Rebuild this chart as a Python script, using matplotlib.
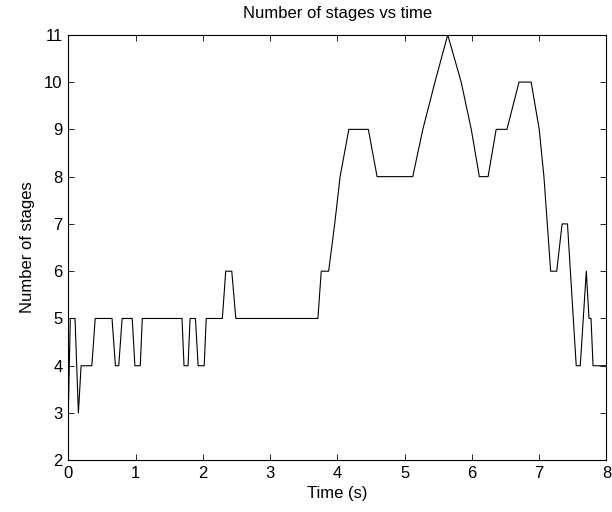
import matplotlib
matplotlib.use("Agg")
import matplotlib.pyplot as plt

plt.rcParams['font.family'] = ['Liberation Sans', 'DejaVu Sans']

# Vertices of the stage-count trace
time_s = [0.00, 0.03, 0.10, 0.15, 0.19, 0.35, 0.40, 0.65, 0.70, 0.75, 0.80,
          0.95, 0.99, 1.07, 1.10, 1.69, 1.72, 1.78, 1.81, 1.89, 1.93, 2.02,
          2.05, 2.29, 2.34, 2.43, 2.49, 3.71, 3.76, 3.87, 3.96, 4.04, 4.17,
          4.46, 4.59, 5.12, 5.27, 5.45, 5.64, 5.84, 5.99, 6.11, 6.24, 6.36,
          6.52, 6.70, 6.88, 7.00, 7.07, 7.12, 7.17, 7.26, 7.34, 7.42, 7.55,
          7.61, 7.70, 7.74, 7.77, 7.80, 8.00]
stages = [3, 5, 5, 3, 4, 4, 5, 5, 4, 4, 5,
          5, 4, 4, 5, 5, 4, 4, 5, 5, 4, 4,
          5, 5, 6, 6, 5, 5, 6, 6, 7, 8, 9,
          9, 8, 8, 9, 10, 11, 10, 9, 8, 8, 9,
          9, 10, 10, 9, 8, 7, 6, 6, 7, 7, 4,
          4, 6, 5, 5, 4, 4]

x_ticks = [0, 1, 2, 3, 4, 5, 6, 7, 8]
y_ticks = [2, 3, 4, 5, 6, 7, 8, 9, 10, 11]

fig = plt.figure(figsize=(6.12, 5.12), dpi=100)
ax = fig.add_axes([0.1116, 0.101, 0.8794, 0.831])

ax.plot(time_s, stages, color='black', linewidth=0.8)

ax.set_xlim(0, 8)
ax.set_ylim(2, 11)
ax.set_xticks(x_ticks)
ax.set_yticks(y_ticks)
ax.tick_params(direction='in', top=True, right=True, labelsize=12, length=4,
               width=0.6, pad=4)
for s in ax.spines.values():
    s.set_linewidth(0.8)

ax.set_title('Number of stages vs time', fontsize=12, pad=12)
ax.set_xlabel('Time (s)', fontsize=12, labelpad=4)
ax.set_ylabel('Number of stages', fontsize=12, labelpad=7)

fig.savefig('out.png', dpi=100)
